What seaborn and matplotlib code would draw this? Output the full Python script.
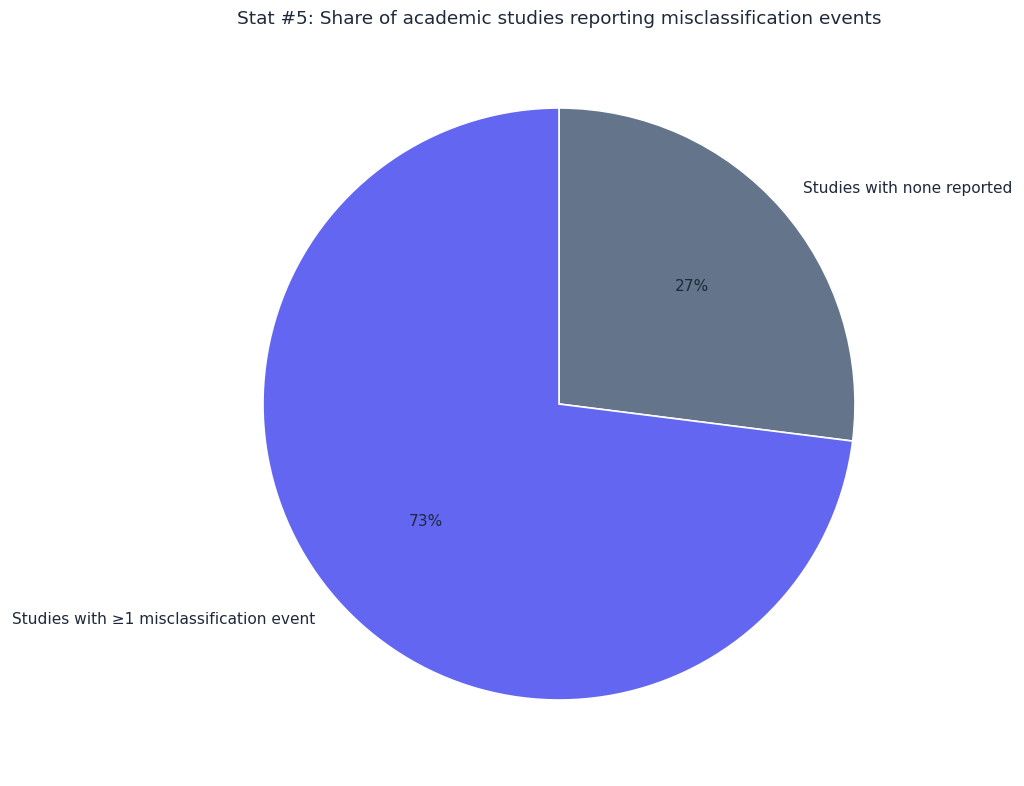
import matplotlib
matplotlib.use("Agg")
import matplotlib.pyplot as plt
import seaborn as sns

# data
labels = ["Studies with none reported", "Studies with \u22651 misclassification event"]
shares = [27, 73]
colors = ["#64748b", "#6366f1"]
title = "Stat #5: Share of academic studies reporting misclassification events"

sns.set_theme(style="white")
plt.rcParams["font.family"] = ["DejaVu Sans"]

text_color = "#1e293b"

fig = plt.figure(figsize=(10.24, 7.86), dpi=100)
ax = fig.add_axes([189 / 1024, 12 / 786, 740 / 1024, 740 / 786])

wedges, texts, autotexts = ax.pie(
    shares,
    labels=labels,
    colors=colors,
    startangle=90,
    counterclock=False,
    autopct="%1.0f%%",
    wedgeprops={"edgecolor": "white", "linewidth": 1.2},
    textprops={"color": text_color, "fontsize": 11.1},
)
ax.set_xlim(-1.25, 1.25)
ax.set_ylim(-1.25, 1.25)
ax.set_aspect("equal")
ax.axis("off")

# title is centred over the pie, not the figure
fig.text(559.5 / 1024, 1 - 19.5 / 786, title, ha="center", va="center",
         fontsize=13.3, color=text_color)

fig.savefig("out.png", dpi=100, facecolor="white")
